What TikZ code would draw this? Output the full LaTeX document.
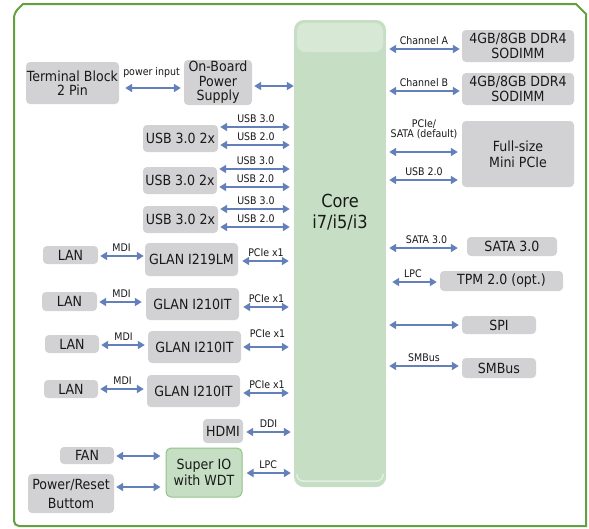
\documentclass[tikz,border=0pt]{standalone}
\usepackage{fontspec}
\setmainfont{DejaVu Sans Condensed}
\usetikzlibrary{arrows.meta}
\definecolor{frameg}{RGB}{98,160,64}
\definecolor{boxg}{RGB}{210,210,212}
\definecolor{arrb}{RGB}{100,128,186}
\definecolor{cdark}{RGB}{140,190,140}
\definecolor{clight}{RGB}{198,223,196}
\definecolor{sioborder}{RGB}{146,194,136}
\definecolor{txt}{RGB}{25,25,25}
\pgfdeclarehorizontalshading{coreshade}{100bp}{color(0bp)=(cdark); color(16bp)=(clight); color(84bp)=(clight); color(100bp)=(cdark)}
\begin{document}
\begin{tikzpicture}[x=1pt,y=-1pt,
 gbox/.style={fill=boxg, rounded corners=4pt, inner sep=0pt, align=center, text=txt, font=\fontsize{14}{14.5}\selectfont},
 lbl/.style={font=\fontsize{10.5}{11}\selectfont, text=txt, inner sep=0pt, align=center},
 arr/.style={draw=arrb, line width=1.8pt, {Triangle[width=8pt,length=7pt]}-{Triangle[width=8pt,length=7pt]}, shorten <=2pt, shorten >=3pt},
 lab/.style={midway, above=3.5pt, lbl}]
\useasboundingbox (0,0) rectangle (589,528);
% frame
\draw[frameg, line width=2pt, fill=white] (14,13) -- (23,4) -- (576,4) -- (586,14) -- (586,526) [rounded corners=5pt] -- (14,526) -- cycle;
% core
\node[shade, shading=coreshade, rounded corners=10pt, minimum width=92, minimum height=467, inner sep=0pt] (core) at (340,253.5) {};
\fill[white, opacity=0.3, rounded corners=8pt] (297,23) rectangle (383,52);
\draw[white, opacity=0.5, line width=1.5pt, rounded corners=6pt] (297,474) -- (297,481) -- (383,481) -- (383,474);
\node[font=\fontsize{18}{20.5}\selectfont, text=txt, align=center] (coretext) at (340,212) {Core\\i7/i5/i3};
% left boxes
\node[gbox, minimum width=93, minimum height=42] (term) at (72.5,83) {Terminal Block\\2 Pin};
\node[gbox, minimum width=68, minimum height=45] (psu) at (218,82.5) {On-Board\\Power\\Supply};
\node[gbox, minimum width=75, minimum height=27] (usb1) at (180.5,138.5) {USB 3.0 2x};
\node[gbox, minimum width=74, minimum height=27] (usb2) at (180,180.5) {USB 3.0 2x};
\node[gbox, minimum width=75, minimum height=27] (usb3) at (180.5,219.5) {USB 3.0 2x};
\node[gbox, minimum width=55, minimum height=18] (lan1) at (70.5,255) {LAN};
\node[gbox, minimum width=93, minimum height=33] (glan1) at (191.5,259.5) {GLAN I219LM};
\node[gbox, minimum width=55, minimum height=19] (lan2) at (69.5,301.5) {LAN};
\node[gbox, minimum width=93, minimum height=32] (glan2) at (192.5,304) {GLAN I210IT};
\node[gbox, minimum width=54, minimum height=18] (lan3) at (72,344) {LAN};
\node[gbox, minimum width=93, minimum height=32] (glan3) at (194.5,347) {GLAN I210IT};
\node[gbox, minimum width=54, minimum height=18] (lan4) at (71,389) {LAN};
\node[gbox, minimum width=93, minimum height=32] (glan4) at (193.5,391) {GLAN I210IT};
\node[gbox, minimum width=40, minimum height=24] (hdmi) at (223,431) {HDMI};
\node[gbox, minimum width=54, minimum height=17] (fan) at (87,455.5) {FAN};
\node[gbox, minimum width=86, minimum height=39, font=\fontsize{14}{19}\selectfont] (pwr) at (71,493.5) {Power/Reset\\Buttom};
\node[shade, shading=coreshade, draw=sioborder, line width=1pt, rounded corners=5pt, minimum width=76, minimum height=49, inner sep=0pt, align=center, text=txt, font=\fontsize{14}{16}\selectfont] (sio) at (204,472.5) {Super IO\\with WDT};
% right boxes
\node[gbox, minimum width=112, minimum height=32] (ddr1) at (518,46) {4GB/8GB DDR4\\SODIMM};
\node[gbox, minimum width=112, minimum height=32] (ddr2) at (518,89) {4GB/8GB DDR4\\SODIMM};
\node[gbox, minimum width=112, minimum height=66, font=\fontsize{14}{16}\selectfont] (mpcie) at (518,154) {Full-size\\Mini PCIe};
\node[gbox, minimum width=90, minimum height=19] (sata) at (512,246.5) {SATA 3.0};
\node[gbox, minimum width=123, minimum height=20] (tpm) at (501.5,281) {TPM 2.0 (opt.)};
\node[gbox, minimum width=74, minimum height=18] (spi) at (499,325) {SPI};
\node[gbox, minimum width=74, minimum height=20] (smbus) at (499,368) {SMBus};
% left connectors
\draw[arr, shorten <=6pt] (term.east |- 0,88) -- (psu.west |- 0,88) node[lab, above=6pt] {power input};
\draw[arr, shorten >=0pt] (psu.east |- 0,86) -- (core.west |- 0,86);
\draw[arr, shorten >=4pt] (usb1.east |- 0,127) -- (core.west |- 0,127) node[lab] {USB 3.0};
\draw[arr, shorten >=4pt] (usb1.east |- 0,145) -- (core.west |- 0,145) node[lab] {USB 2.0};
\draw[arr, shorten >=4pt] (usb2.east |- 0,169) -- (core.west |- 0,169) node[lab] {USB 3.0};
\draw[arr, shorten >=4pt] (usb2.east |- 0,187) -- (core.west |- 0,187) node[lab] {USB 2.0};
\draw[arr, shorten >=4pt] (usb3.east |- 0,209) -- (core.west |- 0,209) node[lab] {USB 3.0};
\draw[arr, shorten >=4pt] (usb3.east |- 0,227) -- (core.west |- 0,227) node[lab] {USB 2.0};
\draw[arr, shorten >=1pt] (lan1.east |- 0,256) -- (glan1.west |- 0,256) node[lab] {MDI};
\draw[arr, shorten <=4pt, shorten >=5pt] (glan1.east |- 0,261) -- (core.west |- 0,261) node[lab] {PCIe x1};
\draw[arr, shorten >=4pt] (lan2.east |- 0,302) -- (glan2.west |- 0,302) node[lab] {MDI};
\draw[arr, shorten <=4pt, shorten >=5pt] (glan2.east |- 0,307) -- (core.west |- 0,307) node[lab] {PCIe x1};
\draw[arr] (lan3.east |- 0,345) -- (glan3.west |- 0,345) node[lab] {MDI};
\draw[arr, shorten <=2pt, shorten >=5pt] (glan3.east |- 0,347) -- (core.west |- 0,347) node[lab, above=5pt] {PCIe x1};
\draw[arr] (lan4.east |- 0,389) -- (glan4.west |- 0,389) node[lab] {MDI};
\draw[arr, shorten <=3pt, shorten >=5pt] (glan4.east |- 0,393) -- (core.west |- 0,393) node[lab] {PCIe x1};
\draw[arr, shorten <=3pt, shorten >=3pt] (hdmi.east |- 0,432) -- (core.west |- 0,432) node[lab] {DDI};
\draw[arr, shorten <=2pt, shorten >=5pt] (fan.east |- 0,456) -- (sio.west |- 0,456);
\draw[arr, shorten <=2pt, shorten >=5pt] (pwr.east |- 0,487) -- (sio.west |- 0,487);
\draw[arr, shorten <=4pt, shorten >=3pt] (sio.east |- 0,473) -- (core.west |- 0,473) node[lab] {LPC};
% right connectors
\draw[arr, shorten <=3pt, shorten >=2pt] (core.east |- 0,49) -- (ddr1.west |- 0,49) node[lab] {Channel A};
\draw[arr, shorten <=3pt, shorten >=2pt] (core.east |- 0,91) -- (ddr2.west |- 0,91) node[lab] {Channel B};
\draw[arr, shorten <=3pt, shorten >=4pt] (core.east |- 0,152) -- (mpcie.west |- 0,152) node[lab, above=9pt] {PCIe/\\[-1pt]SATA (default)};
\draw[arr, shorten <=3pt, shorten >=4pt] (core.east |- 0,180) -- (mpcie.west |- 0,180) node[lab] {USB 2.0};
\draw[arr, shorten <=3pt, shorten >=9pt] (core.east |- 0,248) -- (sata.west |- 0,248) node[lab] {SATA 3.0};
\draw[arr, shorten <=6pt, shorten >=3pt] (core.east |- 0,282) -- (tpm.west |- 0,282) node[lab] {LPC};
\draw[arr, shorten <=3pt, shorten >=3pt] (core.east |- 0,325) -- (spi.west |- 0,325);
\draw[arr, shorten <=3pt, shorten >=3pt] (core.east |- 0,366) -- (smbus.west |- 0,366) node[lab] {SMBus};
\end{tikzpicture}
\end{document}
